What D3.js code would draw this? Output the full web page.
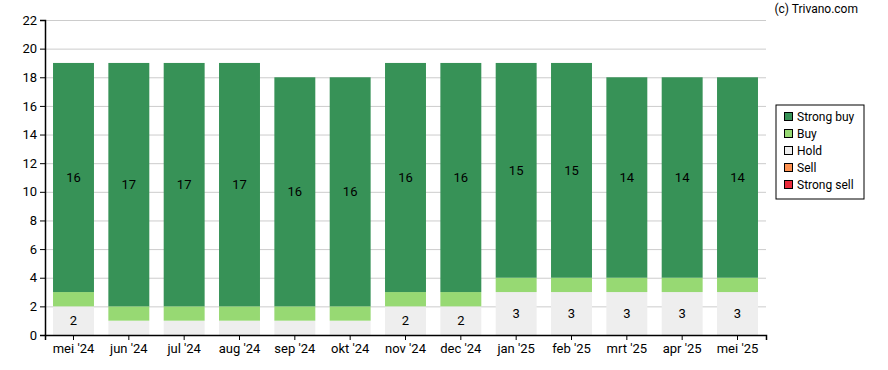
<!DOCTYPE html>
<html>
<head>
<meta charset="utf-8">
<script src="https://cdn.jsdelivr.net/npm/d3@7"></script>
<style>
  html, body { margin: 0; padding: 0; background: #fff; overflow: hidden; }
  svg { display: block; font-family: Roboto, "Noto Sans", sans-serif; }
  .grid line { stroke: #cccccc; }
  .grid .domain { display: none; }
</style>
</head>
<body>
<div id="chart"></div>
<script>
const months = ["mei '24", "jun '24", "jul '24", "aug '24", "sep '24", "okt '24", "nov '24",
    "dec '24", "jan '25", "feb '25", "mrt '25", "apr '25", "mei '25"];
const holdValues = [2, 1, 1, 1, 1, 1, 2, 2, 3, 3, 3, 3, 3];
const buyValues = [1, 1, 1, 1, 1, 1, 1, 1, 1, 1, 1, 1, 1];
const strongBuyValues = [16, 17, 17, 17, 16, 16, 16, 16, 15, 15, 14, 14, 14];
const sellValues = [0, 0, 0, 0, 0, 0, 0, 0, 0, 0, 0, 0, 0];
const strongSellValues = [0, 0, 0, 0, 0, 0, 0, 0, 0, 0, 0, 0, 0];
const yTicks = [0, 2, 4, 6, 8, 10, 12, 14, 16, 18, 20, 22];

const seriesNames = ["Hold", "Buy", "Strong buy", "Sell", "Strong sell"];
const legendNames = ["Strong buy", "Buy", "Hold", "Sell", "Strong sell"];
const colours = {
    "Strong buy": "#379257",
    "Buy": "#97d973",
    "Hold": "#eeeeee",
    "Sell": "#fd9150",
    "Strong sell": "#ea2b3b"
};

const width = 888, height = 370;
const margin = { top: 20, right: 122, bottom: 35, left: 45 };
const innerWidth = width - margin.left - margin.right;
const innerHeight = height - margin.top - margin.bottom;

// Build the table for the stack
const table = months.map((m, i) => ({
    month: m,
    "Hold": holdValues[i],
    "Buy": buyValues[i],
    "Strong buy": strongBuyValues[i],
    "Sell": sellValues[i],
    "Strong sell": strongSellValues[i]
}));

const svg = d3.select("#chart")
    .append("svg")
    .attr("width", width)
    .attr("height", height);

const g = svg.append("g")
    .attr("transform", "translate(" + margin.left + "," + margin.top + ")");

const xScale = d3.scaleBand()
    .domain(months)
    .range([0, innerWidth])
    .paddingInner(0.26)
    .paddingOuter(0.145);

const yScale = d3.scaleLinear()
    .domain([0, 22])
    .range([innerHeight, 0]);

// Gridlines
g.append("g")
    .attr("class", "grid")
    .call(d3.axisLeft(yScale).tickValues(yTicks).tickSize(-innerWidth).tickFormat(""));

// Stack the data
const stackedData = d3.stack().keys(seriesNames)(table);

const layers = g.append("g")
    .selectAll("g")
    .data(stackedData)
    .enter()
    .append("g")
    .attr("fill", d => colours[d.key]);

layers.selectAll("rect")
    .data(d => d)
    .enter()
    .append("rect")
    .attr("x", d => xScale(d.data.month))
    .attr("y", d => yScale(d[1]))
    .attr("width", xScale.bandwidth())
    .attr("height", d => yScale(d[0]) - yScale(d[1]));

// Only segments of 2 or more get a label
layers.selectAll("text")
    .data(d => d.filter(s => s[1] - s[0] >= 2))
    .enter()
    .append("text")
    .attr("x", d => xScale(d.data.month) + xScale.bandwidth() / 2)
    .attr("y", d => (yScale(d[0]) + yScale(d[1])) / 2)
    .attr("dy", "0.35em")
    .attr("text-anchor", "middle")
    .attr("fill", "#000")
    .attr("font-size", 13)
    .text(d => d[1] - d[0]);

// Axes
const xAxis = g.append("g")
    .attr("transform", "translate(0," + innerHeight + ")")
    .call(d3.axisBottom(xScale).tickSizeOuter(0).tickSize(5).tickPadding(4));
xAxis.attr("font-family", null);
xAxis.selectAll("text").attr("font-size", 13).attr("fill", "#000");
xAxis.select(".domain").attr("stroke", "#000").attr("stroke-width", 1.5);

const yAxis = g.append("g")
    .call(d3.axisLeft(yScale).tickValues(yTicks).tickSizeOuter(0).tickSize(5).tickPadding(3));
yAxis.attr("font-family", null);
yAxis.selectAll("text").attr("font-size", 13).attr("fill", "#000");
yAxis.select(".domain").attr("stroke", "#000").attr("stroke-width", 1.5);

// Legend
const legend = svg.append("g").attr("transform", "translate(776,105)");
legend.append("rect")
    .attr("width", 88)
    .attr("height", 94)
    .attr("fill", "#fff")
    .attr("stroke", "#000");

const legendItems = legend.selectAll(".item")
    .data(legendNames)
    .enter()
    .append("g")
    .attr("class", "item")
    .attr("transform", (d, i) => "translate(8," + (7 + i * 17) + ")");

legendItems.append("rect")
    .attr("width", 8)
    .attr("height", 8)
    .attr("x", 0.5)
    .attr("y", 0.5)
    .attr("fill", d => colours[d])
    .attr("stroke", "#000");

legendItems.append("text")
    .attr("x", 13)
    .attr("y", 4.5)
    .attr("dy", "0.35em")
    .attr("font-size", 12)
    .attr("fill", "#000")
    .text(d => d);

// Copyright
svg.append("text")
    .attr("x", 858)
    .attr("y", 9)
    .attr("dy", "0.35em")
    .attr("text-anchor", "end")
    .attr("font-size", 12)
    .attr("fill", "#000")
    .text("(c) Trivano.com");
</script>
</body>
</html>
